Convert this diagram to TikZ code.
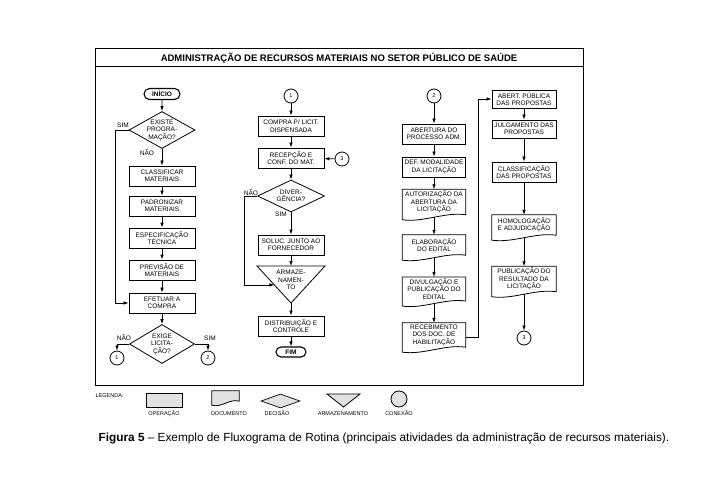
\documentclass[tikz,border=0pt]{standalone}
\usepackage{fontspec}
\setmainfont{Liberation Sans}
\usetikzlibrary{arrows.meta,positioning,calc,shapes.geometric,shapes.misc}
\definecolor{legfill}{HTML}{E2E2E2}

\begin{document}
\begin{tikzpicture}[
      x=1pt,
      y=-1pt,
      font=\fontsize{6.5}{7.5}\selectfont,
      box/.style={draw, fill=white, align=center, minimum width=66, minimum height=20, inner sep=1pt, line width=0.8pt},
      docbox/.style={align=center, minimum width=63, minimum height=20, inner xsep=1pt, inner ysep=1.5pt},
      term/.style={draw, rounded rectangle, line width=1.1pt, minimum width=38, minimum height=11, inner sep=1pt, font=\fontsize{6.5}{7.5}\selectfont\bfseries},
      decision/.style={draw, diamond, inner sep=0pt, line width=0.8pt},
      conn/.style={draw, circle, minimum size=14, inner sep=0pt, line width=0.8pt, font=\fontsize{5.5}{6}\selectfont},
      lbl/.style={inner sep=0.5pt, align=center},
      leglbl/.style={inner sep=0.5pt, anchor=base, font=\fontsize{5.5}{6}\selectfont},
      arrow/.style={-{Latex[length=5pt,width=3.5pt]}, line width=0.7pt},
      line/.style={line width=0.8pt}
  ]
  \useasboundingbox (0,0) rectangle (721,500);
  % Frame and title bar
  \draw[line width=1pt] (95,49) rectangle (583,385);
  \draw[line width=1pt] (95,67) -- (583,67);
  \node[font=\fontsize{9.5}{11}\selectfont\bfseries] (title) at (339,58) {ADMINISTRAÇÃO DE RECURSOS MATERIAIS NO SETOR PÚBLICO DE SAÚDE};

  % --- Column 1: programacao e compra ---
  \node[term] (inicio) at (162,94) {INÍCIO};
  \node[decision, minimum width=66, minimum height=37] (prog) at (162,130) {};
  \node[lbl] (progt) at (prog.center) {EXISTE\\PROGRA-\\MAÇÃO?};
  \node[box] (classif) at (162,176) {CLASSIFICAR\\MATERIAIS};
  \node[box] (padron)  at (162,206) {PADRONIZAR\\MATERIAIS};
  \node[box] (espec)   at (162,238) {ESPECIFICAÇÃO\\TÉCNICA};
  \node[box] (prev)    at (162,270) {PREVISÃO DE\\MATERIAIS};
  \node[box] (efet)    at (162,303) {EFETUAR A\\COMPRA};
  \node[decision, minimum width=65, minimum height=39] (exige) at (162,344) {};
  \node[lbl] (exiget) at (exige.center) {EXIGE\\LICITA-\\ÇÃO?};
  \node[conn] (c1) at (117,358) {1};
  \node[conn] (c2) at (208,358) {2};

  \node[lbl] (simprog) at (123,125) {SIM};
  \node[lbl] (naoprog) at (147,153) {NÃO};
  \node[lbl] (naoexige) at (124,338) {NÃO};
  \node[lbl] (simexige) at (210,338) {SIM};

  % --- Column 2: compra dispensada e recepcao ---
  \node[conn] (c1b) at (291,96) {1};
  \node[box] (compra) at (291,126) {COMPRA P/ LICIT.\\DISPENSADA};
  \node[box] (recep)  at (291,158) {RECEPÇÃO E\\CONF. DO MAT.};
  \node[conn] (c3a) at (342,159) {3};
  \node[decision, minimum width=67, minimum height=32] (diverg) at (291,196) {};
  \node[lbl] (divergt) at (diverg.center) {DIVER-\\GÊNCIA?};
  \node[lbl] (naodiverg) at (251,193) {NÃO};
  \node[lbl] (simdiverg) at (281,214) {SIM};
  \node[box] (soluc) at (291,245) {SOLUC. JUNTO AO\\FORNECEDOR};
  \coordinate (armzl) at (257,266);
  \coordinate (armzr) at (325,266);
  \coordinate (armzt) at (291,303);
  \coordinate (armzin) at ($(armzl)!0.51!(armzt)$);
  \node[lbl] (armz) at (291,280) {ARMAZE-\\NAMEN-\\TO};
  \node[box] (distr) at (291,326) {DISTRIBUIÇÃO E\\CONTROLE};
  \node[term, minimum width=32, minimum height=10] (fim) at (291,352) {FIM};

  % --- Column 3: processo de licitacao ---
  \node[conn] (c2b) at (434,96) {2};
  \node[box, minimum width=63] (abert)  at (434,134) {ABERTURA DO\\PROCESSO ADM.};
  \node[box, minimum width=63] (defmod) at (434,167) {DEF. MODALIDADE\\DA LICITAÇÃO};
  \node[docbox] (aut)   at (434,202) {AUTORIZAÇÃO DA\\ABERTURA DA\\LICITAÇÃO};
  \node[docbox] (elab)  at (434,245) {ELABORAÇÃO\\DO EDITAL};
  \node[docbox] (divul) at (434,289) {DIVULGAÇÃO E\\PUBLICAÇÃO DO\\EDITAL};
  \node[docbox] (receb) at (434,335) {RECEBIMENTO\\DOS DOC. DE\\HABILITAÇÃO};

  % --- Column 4: propostas ---
  \node[box, minimum width=64, minimum height=18] (abpub) at (524,99)  {ABERT. PÚBLICA\\DAS PROPOSTAS};
  \node[box, minimum width=64, minimum height=18] (julg)  at (524,129) {JULGAMENTO DAS\\PROPOSTAS};
  \node[box, minimum width=64] (classp) at (524,172) {CLASSIFICAÇÃO\\DAS PROPOSTAS};
  \node[docbox, minimum width=64] (homol) at (524,225) {HOMOLOGAÇÃO\\E ADJUDICAÇÃO};
  \node[docbox, minimum width=64] (publ)  at (524,279) {PUBLICAÇÃO DO\\RESULTADO DA\\LICITAÇÃO};
  \node[conn] (c3b) at (524,338) {3};

  % Document outlines (wave below the text)
  \foreach \n in {aut,elab,divul,receb,homol,publ}
    \draw[line] (\n.north west) -- (\n.north east) -- (\n.south east)
      .. controls ([yshift=3pt]$(\n.south west)!0.667!(\n.south east)$) and ([yshift=-8pt]$(\n.south west)!0.333!(\n.south east)$) .. ([yshift=-5pt]\n.south west) -- cycle;

  % Storage triangle
  \draw[line] (armzl) -- (armzr) -- (armzt) -- cycle;

  % --- Arrows ---
  \draw[arrow] (inicio) -- (prog.north);
  \draw[arrow] (prog.south) -- (classif);
  \draw[arrow] (classif) -- (padron);
  \draw[arrow] (padron) -- (espec);
  \draw[arrow] (espec) -- (prev);
  \draw[arrow] (prev) -- (efet);
  \draw[arrow] (efet) -- (exige.north);
  \draw[arrow] (prog.west) -- ++(-13,0) |- (efet.west);
  \draw[arrow] (exige.west) -| (c1);
  \draw[arrow] (exige.east) -| (c2);

  \draw[arrow] (c1b) -- (compra);
  \draw[arrow] (compra) -- (recep);
  \draw[arrow] (c3a) -- (recep);
  \draw[arrow] (recep) -- (diverg.north);
  \draw[arrow] (diverg.south) -- (soluc);
  \draw[arrow] (soluc) -- (soluc.south |- armzl);
  \draw[arrow] (diverg.west) -- ++(-13,0) |- (armzin);
  \draw[arrow] (armzt) -- (distr);
  \draw[arrow] (distr) -- (fim);

  \draw[arrow] (c2b) -- (abert);
  \draw[arrow] (abert) -- (defmod);
  \draw[arrow] (defmod) -- (aut);
  \draw[arrow] ([yshift=-2.5pt]aut.south) -- (elab);
  \draw[arrow] ([yshift=-2.5pt]elab.south) -- (divul);
  \draw[arrow] ([yshift=-2.5pt]divul.south) -- (receb);
  \draw[arrow] ([yshift=-2pt]receb.east) -- ++(13,0) |- (abpub.west);

  \draw[arrow] (abpub) -- (julg);
  \draw[arrow] (julg) -- (classp);
  \draw[arrow] (classp) -- (homol);
  \draw[arrow] ([yshift=-2.5pt]homol.south) -- (publ);
  \draw[arrow] ([yshift=-2.5pt]publ.south) -- (c3b);

  % --- Legend ---
  \node[leglbl, anchor=west] (legenda) at (95,396) {LEGENDA:};
  \node[draw, fill=legfill, line width=0.7pt, minimum width=36, minimum height=14, inner sep=0pt] (lop) at (164,400) {};
  \node[minimum width=27, minimum height=12, inner sep=0pt] (ldoc) at (225.5,397) {};
  \draw[line, fill=legfill] (ldoc.north west) -- (ldoc.north east) -- ([yshift=2pt]ldoc.south east)
      .. controls ([yshift=5pt]$(ldoc.south west)!0.667!(ldoc.south east)$) and ([yshift=-5pt]$(ldoc.south west)!0.333!(ldoc.south east)$) .. ([yshift=-2pt]ldoc.south west) -- cycle;
  \node[decision, fill=legfill, line width=0.7pt, minimum width=39, minimum height=14] (ldec) at (280.5,401) {};
  \coordinate (larmzl) at (327,394);
  \coordinate (larmzr) at (360,394);
  \coordinate (larmzt) at (343.5,407);
  \draw[line, fill=legfill] (larmzl) -- (larmzr) -- (larmzt) -- cycle;
  \node[conn, fill=legfill, minimum size=16] (lcon) at (399,399) {};
  \node[leglbl] (lopt)   at (164,415) {OPERAÇÃO};
  \node[leglbl] (ldoct)  at (229,415) {DOCUMENTO};
  \node[leglbl] (ldect)  at (277,415) {DECISÃO};
  \node[leglbl] (larmzt2) at (343,415) {ARMAZENAMENTO};
  \node[leglbl] (lcont)  at (399,415) {CONEXÃO};

  % Caption
  \node[font=\fontsize{11.8}{13}\selectfont] (caption) at (384,438) {\textbf{Figura 5} -- Exemplo de Fluxograma de Rotina (principais atividades da administração de recursos materiais).};
\end{tikzpicture}
\end{document}
